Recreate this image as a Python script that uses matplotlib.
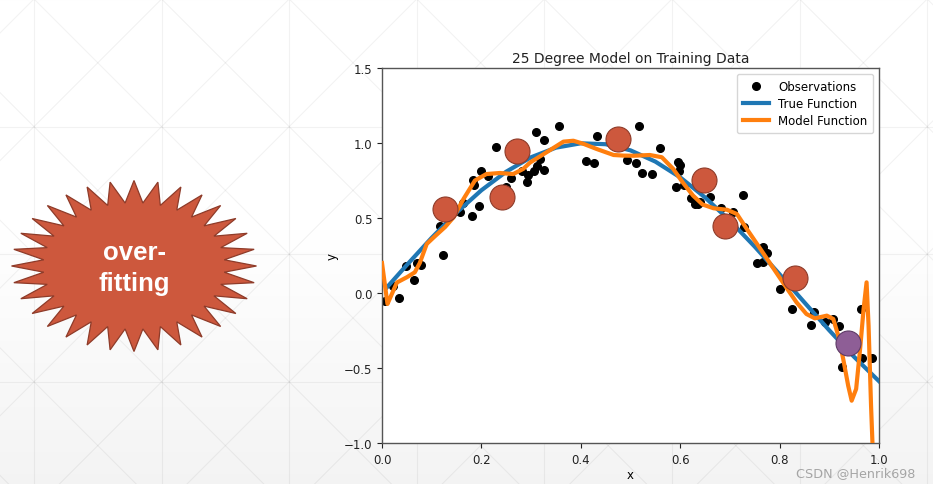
import numpy as np
import matplotlib
matplotlib.use("Agg")
import matplotlib.pyplot as plt
from matplotlib.patches import Polygon

# ---------------- data ----------------
obs_x = [0.006, 0.023, 0.034, 0.048, 0.065, 0.070, 0.078, 0.117, 0.122, 0.157,
         0.162, 0.182, 0.184, 0.185, 0.196, 0.200, 0.214, 0.229, 0.250, 0.260,
         0.282, 0.291, 0.293, 0.305, 0.311, 0.325, 0.310, 0.325, 0.318, 0.357,
         0.410, 0.427, 0.432, 0.518, 0.492, 0.512, 0.524, 0.543, 0.559, 0.595,
         0.600, 0.598, 0.592, 0.608, 0.621, 0.630, 0.635, 0.640, 0.660, 0.683,
         0.707, 0.726, 0.728, 0.767, 0.774, 0.754, 0.767, 0.800, 0.825, 0.863,
         0.870, 0.891, 0.907, 0.919, 0.925, 0.963, 0.965, 0.985]
obs_y = [-0.05, 0.05, -0.03, 0.18, 0.09, 0.20, 0.19, 0.45, 0.255, 0.54,
         0.60, 0.515, 0.755, 0.72, 0.58, 0.815, 0.78, 0.975, 0.71, 0.77,
         0.815, 0.74, 0.79, 0.815, 0.845, 0.82, 1.075, 1.02, 0.893, 1.11,
         0.878, 0.867, 1.05, 1.115, 0.89, 0.865, 0.80, 0.793, 0.97, 0.875,
         0.853, 0.815, 0.71, 0.72, 0.635, 0.593, 0.593, 0.605, 0.638, 0.565,
         0.54, 0.655, 0.44, 0.307, 0.27, 0.20, 0.21, 0.03, -0.107, -0.21,
         -0.125, -0.19, -0.17, -0.22, -0.495, -0.107, -0.435, -0.435]

true_x = [0.01, 0.05, 0.10, 0.15, 0.20, 0.25, 0.30, 0.35, 0.40, 0.45, 0.50,
          0.55, 0.60, 0.65, 0.70, 0.75, 0.80, 0.85, 0.90, 0.95, 1.00]
true_y = [0.038, 0.187, 0.368, 0.536, 0.685, 0.809, 0.905, 0.969, 0.998, 0.992,
          0.951, 0.876, 0.771, 0.637, 0.482, 0.309, 0.125, -0.063, -0.249,
          -0.426, -0.588]

model_x = [0.000, 0.011, 0.030, 0.050, 0.066, 0.076, 0.090, 0.107, 0.127, 0.144,
           0.164, 0.187, 0.210, 0.237, 0.264, 0.284, 0.298, 0.331, 0.365, 0.385,
           0.405, 0.432, 0.466, 0.486, 0.506, 0.539, 0.563, 0.586, 0.606, 0.626,
           0.645, 0.667, 0.694, 0.714, 0.734, 0.757, 0.784, 0.811, 0.834, 0.854,
           0.871, 0.895, 0.908, 0.918, 0.928, 0.938, 0.945, 0.954, 0.962, 0.969,
           0.975, 0.979, 0.984, 0.988]
model_y = [0.20, -0.073, 0.07, 0.105, 0.138, 0.20, 0.327, 0.38, 0.44, 0.505,
           0.627, 0.75, 0.793, 0.80, 0.793, 0.827, 0.87, 0.938, 1.009, 1.015,
           0.995, 0.96, 0.92, 0.916, 0.915, 0.92, 0.905, 0.827, 0.733, 0.649,
           0.59, 0.565, 0.555, 0.527, 0.427, 0.315, 0.182, 0.049, -0.062, -0.14,
           -0.169, -0.151, -0.173, -0.284, -0.44, -0.618, -0.718, -0.64, -0.373,
           -0.107, 0.071, -0.218, -0.751, -1.1]

hl_x = [0.126, 0.242, 0.271, 0.474, 0.647, 0.690, 0.830]
hl_y = [0.56, 0.642, 0.95, 1.03, 0.753, 0.445, 0.098]
out_x = [0.938]
out_y = [-0.335]

xticks = [0.0, 0.2, 0.4, 0.6, 0.8, 1.0]
yticks = [-1.0, -0.5, 0.0, 0.5, 1.0, 1.5]

W, H = 933, 485
fig = plt.figure(figsize=(W / 100, H / 100), dpi=100)

# ---------------- slide background ----------------
bg = fig.add_axes([0, 0, 1, 1], zorder=0)
bg.set_xlim(0, W)
bg.set_ylim(H, 0)
bg.axis("off")
grad = np.ones((H, 1))
rows = np.arange(H)
grad[:, 0] = np.where(rows < 230, 1.0, 1.0 - 0.045 * (rows - 230) / (H - 230))
bg.imshow(np.dstack([grad, grad, grad]), extent=[0, W, H, 0], aspect="auto",
          vmin=0, vmax=1, zorder=0)
step = 127.6
lc = "#000000"
la = 0.05
for k in range(-1, 9):
    vx = 34 + step * k
    bg.plot([vx, vx], [0, H], color=lc, alpha=la, lw=0.8, zorder=1)
for k in range(0, 5):
    hy = step * k
    bg.plot([0, W], [hy, hy], color=lc, alpha=la, lw=0.8, zorder=1)
for k in range(-6, 14):
    c = 34 + step * k
    bg.plot([c, c + 1000], [0, 1000], color=lc, alpha=la, lw=0.8, zorder=1)
    bg.plot([c, c - 1000], [0, 1000], color=lc, alpha=la, lw=0.8, zorder=1)

# starburst (32 points)
cx, cy, rx, ry = 134, 267, 122.5, 85.5
ang = np.arange(64) * np.pi / 32
rr = np.where(np.arange(64) % 2 == 0, 1.0, 0.74)
pts = np.column_stack([cx + rx * rr * np.cos(ang), cy - ry * rr * np.sin(ang)])
bg.add_patch(Polygon(pts, closed=True, facecolor="#CD583D", edgecolor="#8E3B29",
                     lw=0.9, zorder=3))
bg.text(cx, 253, "over-", color="white", fontsize=18.5, fontweight="bold",
        family="Liberation Sans", ha="center", va="center", zorder=4)
bg.text(cx, 284, "fitting", color="white", fontsize=18.5, fontweight="bold",
        family="Liberation Sans", ha="center", va="center", zorder=4)
bg.text(915, 474, "CSDN @Henrik698", color="#a5a5a5", fontsize=9.2,
        ha="right", va="center", zorder=4)

# ---------------- chart ----------------
ax = fig.add_axes([382 / W, 1 - 444 / H, (879 - 382) / W, (444 - 69) / H], zorder=2)
ax.set_facecolor("white")
ax.plot(obs_x, obs_y, "ko", ms=5.5, label="Observations", zorder=2)
ax.plot(true_x, true_y, color="#1f77b4", lw=3, label="True Function", zorder=3)
ax.plot(model_x, model_y, color="#ff7f0e", lw=3, label="Model Function", zorder=4)
ax.plot(hl_x, hl_y, "o", ms=18, mfc="#CD583D", mec="#8E3B29", mew=0.8, zorder=6)
ax.plot(out_x, out_y, "o", ms=18, mfc="#8E5E96", mec="#5E3A66", mew=0.8, zorder=6)

ax.set_xlim(0, 1)
ax.set_ylim(-1, 1.5)
ax.set_xticks(xticks)
ax.set_yticks(yticks)
ax.tick_params(labelsize=8.5, length=3.5, colors="#222222")
for s in ax.spines.values():
    s.set_color("#555555")
    s.set_linewidth(1.0)
ax.set_title("25 Degree Model on Training Data", fontsize=10, color="#222222", pad=4)
ax.set_xlabel("x", fontsize=8.5, labelpad=2)
ax.set_ylabel("y", fontsize=8.5, labelpad=4)
ax.legend(loc="upper right", fontsize=8.5, handlelength=2.2, borderpad=0.5,
          labelspacing=0.35)

fig.savefig("out.png", dpi=100)
